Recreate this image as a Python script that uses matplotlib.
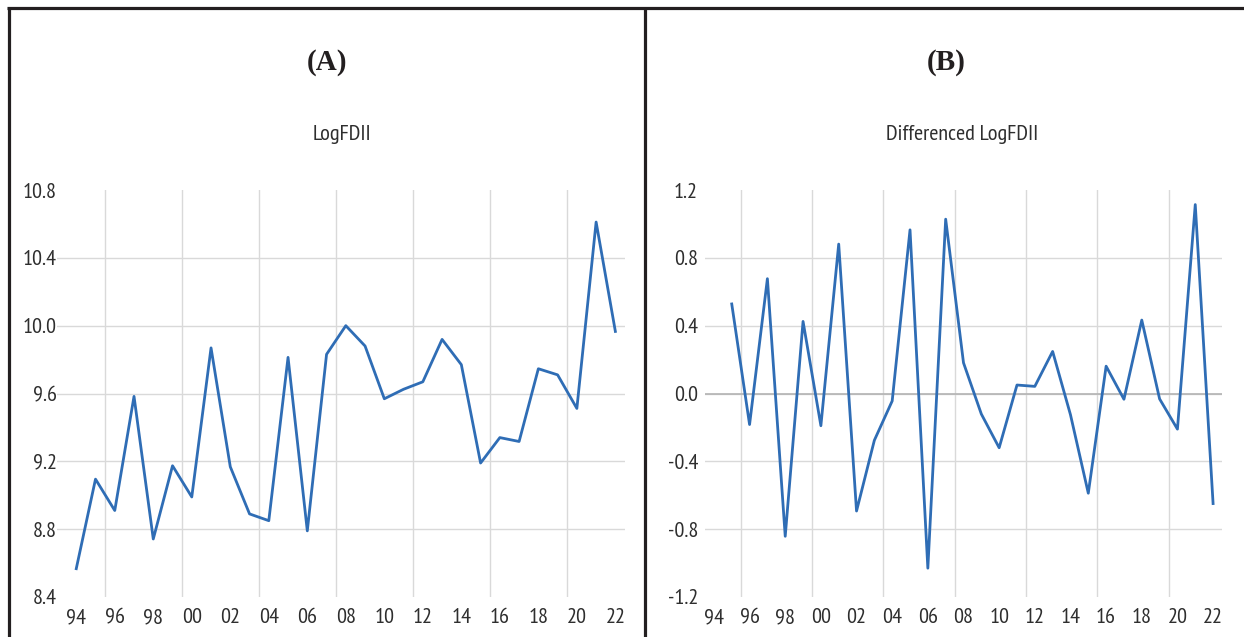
import matplotlib
matplotlib.use("Agg")
import matplotlib.pyplot as plt
from matplotlib.lines import Line2D

# ---------------- data ----------------
years_a = list(range(1994, 2023))
log_fdii = [8.567, 9.095, 8.91, 9.583, 8.742, 9.174, 8.99, 9.869, 9.168, 8.89,
            8.85, 9.813, 8.79, 9.831, 10.0, 9.88, 9.569, 9.625, 9.669, 9.919,
            9.77, 9.19, 9.34, 9.317, 9.746, 9.71, 9.512, 10.611, 9.966]
years_b = list(range(1995, 2023))
diff_log_fdii = [0.528, -0.183, 0.677, -0.842, 0.425, -0.19, 0.881, -0.693, -0.276,
                 -0.044, 0.965, -1.03, 1.028, 0.181, -0.121, -0.32, 0.05, 0.042,
                 0.248, -0.125, -0.588, 0.161, -0.034, 0.433, -0.032, -0.21, 1.114,
                 -0.649]
xtick_years = list(range(1994, 2023, 2))
vgrid_years = [1995.5, 1999.5, 2003.5, 2007.5, 2011.5, 2015.5, 2019.5]
yticks_a = [8.4, 8.8, 9.2, 9.6, 10.0, 10.4, 10.8]
yticks_b = [-1.2, -0.8, -0.4, 0.0, 0.4, 0.8, 1.2]

W, H = 1244, 637
fig = plt.figure(figsize=(W / 100, H / 100), dpi=100)
fig.patch.set_facecolor("white")

NARROW = ["PT Sans Narrow", "DejaVu Sans"]
SERIF = ["Liberation Serif", "DejaVu Serif"]
LINE_C = "#2f6db5"
GRID_C = "#d9d9d9"
TXT_C = "#2e2e2e"


def px_axes(left, right, top, bottom):
    return fig.add_axes([left / W, 1 - bottom / H, (right - left) / W, (bottom - top) / H])


def style(ax, xlim, ylim, yticks, ypad):
    ax.set_xlim(*xlim)
    ax.set_ylim(*ylim)
    for s in ax.spines.values():
        s.set_visible(False)
    ax.set_xticks(xtick_years)
    ax.set_xticklabels([f"{y % 100:02d}" for y in xtick_years])
    ax.set_yticks(yticks)
    ax.set_yticklabels([f"{v:.1f}" for v in yticks])
    ax.tick_params(axis="both", length=0, labelsize=16, colors=TXT_C)
    ax.tick_params(axis="y", pad=ypad)
    ax.tick_params(axis="x", pad=8)
    for lab in ax.get_xticklabels() + ax.get_yticklabels():
        lab.set_family(NARROW)
    for v in yticks[1:-1]:
        ax.axhline(v, color=GRID_C, lw=1.0, zorder=0)
    for v in vgrid_years:
        ax.axvline(v, color=GRID_C, lw=1.0, zorder=0)


# Panel A
axA = px_axes(57, 625, 190, 597)
style(axA, (1993.0, 2022.5), (8.4, 10.8), yticks_a, 0)
axA.plot(years_a, log_fdii, color=LINE_C, lw=2.0, zorder=3)

# Panel B
axB = px_axes(705, 1222, 190, 597)
style(axB, (1993.5, 2022.5), (-1.2, 1.2), yticks_b, 5)
axB.axhline(0.0, color="#b3b3b3", lw=1.2, zorder=1)
axB.plot(years_b, diff_log_fdii, color=LINE_C, lw=2.0, zorder=3)

# Titles
fig.text(327 / W, 1 - 62 / H, "(A)", ha="center", va="center", fontsize=21,
         fontweight="bold", family=SERIF, color="#231f20")
fig.text(946 / W, 1 - 62 / H, "(B)", ha="center", va="center", fontsize=21,
         fontweight="bold", family=SERIF, color="#231f20")
fig.text(342 / W, 1 - 134 / H, "LogFDII", ha="center", va="center", fontsize=16,
         family=NARROW, color=TXT_C)
fig.text(962 / W, 1 - 134 / H, "Differenced LogFDII", ha="center", va="center",
         fontsize=16, family=NARROW, color=TXT_C)

# Frame lines
FC = "#231f20"
fig.add_artist(Line2D([7 / W, 1.0], [1 - 7.5 / H, 1 - 7.5 / H], color=FC, lw=2.3,
                      transform=fig.transFigure, solid_capstyle="butt"))
fig.add_artist(Line2D([8.5 / W, 8.5 / W], [0, 1 - 6.5 / H], color=FC, lw=2.3,
                      transform=fig.transFigure, solid_capstyle="butt"))
fig.add_artist(Line2D([645 / W, 645 / W], [0, 1 - 6.5 / H], color=FC, lw=2.3,
                      transform=fig.transFigure, solid_capstyle="butt"))

fig.savefig("out.png", dpi=100, facecolor="white")
